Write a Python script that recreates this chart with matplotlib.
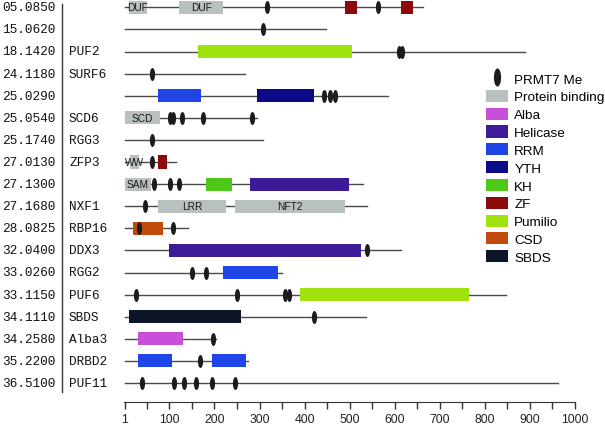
import matplotlib
matplotlib.use('Agg')
import matplotlib.pyplot as plt
from matplotlib.patches import Rectangle, Patch
from matplotlib.lines import Line2D
from matplotlib.path import Path
from matplotlib.transforms import Affine2D

# ---- data ----
ids = ['05.0850', '15.0620', '18.1420', '24.1180', '25.0290', '25.0540',
       '25.1740', '27.0130', '27.1300', '27.1680', '28.0825', '32.0400',
       '33.0260', '33.1150', '34.1110', '34.2580', '35.2200', '36.5100']
names = ['', '', 'PUF2', 'SURF6', '', 'SCD6', 'RGG3', 'ZFP3', '', 'NXF1',
         'RBP16', 'DDX3', 'RGG2', 'PUF6', 'SBDS', 'Alba3', 'DRBD2', 'PUF11']
lengths = [663, 448, 889, 268, 584, 294, 307, 115, 529, 539,
           142, 615, 349, 848, 536, 204, 274, 963]

# domains: row, start, end, type, text in box
dom_row = [0, 0, 0, 0, 2, 4, 4, 5, 7, 7, 8, 8, 8, 9, 9, 10, 11, 12, 13, 14, 15, 16, 16]
dom_start = [11, 121, 489, 615, 164, 75, 295, 1, 13, 75, 1, 181, 280, 75, 246,
             20, 100, 220, 390, 10, 30, 30, 195]
dom_end = [50, 220, 516, 640, 505, 170, 420, 80, 33, 95, 59, 240, 499, 225, 490,
           85, 525, 340, 765, 260, 130, 105, 270]
dom_type = ['Protein binding', 'Protein binding', 'ZF', 'ZF', 'Pumilio', 'RRM', 'YTH',
            'Protein binding', 'Protein binding', 'ZF', 'Protein binding', 'KH', 'Helicase',
            'Protein binding', 'Protein binding', 'CSD', 'Helicase', 'RRM', 'Pumilio',
            'SBDS', 'Alba', 'RRM', 'RRM']
dom_text = ['DUF', 'DUF', '', '', '', '', '', 'SCD', 'WW', '', 'SAM', '', '',
            'LRR', 'NFT2', '', '', '', '', '', '', '', '']

# PRMT7 methylation sites: row, position
me_row = [0, 0, 1, 2, 2, 3, 4, 4, 4, 5, 5, 5, 5, 5, 6, 7, 8, 8, 8, 9, 10, 10,
          11, 12, 12, 13, 13, 13, 13, 14, 15, 16, 17, 17, 17, 17, 17, 17]
me_pos = [317, 562, 307, 609, 616, 61, 444, 456, 468, 102, 107, 127, 174, 284, 62, 61,
          67, 101, 121, 45, 33, 109, 538, 150, 181, 26, 251, 356, 365, 421, 197, 167,
          39, 111, 132, 159, 195, 246]

legend_order = ['Protein binding', 'Alba', 'Helicase', 'RRM', 'YTH', 'KH', 'ZF',
                'Pumilio', 'CSD', 'SBDS']
colors = {'Protein binding': '#b9c0c0', 'Alba': '#c84fd8', 'Helicase': '#3c1a98',
          'RRM': '#1f45e6', 'YTH': '#0b0b88', 'KH': '#4ec816', 'ZF': '#8c0a0c',
          'Pumilio': '#9fe20e', 'CSD': '#c04b0c', 'SBDS': '#0c1628'}

# ---- figure ----
W, H = 605, 427
fig = plt.figure(figsize=(W / 100, H / 100), dpi=100)
ax = fig.add_axes([0, 0, 1, 1])
x0, sx = 124.3, 0.4507     # pixel of value 0, pixels per residue
y0, sy = 8.3, 22.1         # pixel of row 0, pixels per row
ax.set_xlim(-x0 / sx, (W - x0) / sx)
ax.set_ylim((H - y0) / sy, -y0 / sy)

mono = 'Liberation Mono'
for i in range(len(ids)):
    ax.plot([1, lengths[i]], [i, i], color='#4a4a4a', lw=1.0, zorder=1)
    ax.text(-x0 / sx + 2 / sx, i, ids[i], family=mono, fontsize=9.2,
            va='center', ha='left', color='#111111')
    ax.text(-x0 / sx + 69 / sx, i, names[i], family=mono, fontsize=9.2,
            va='center', ha='left', color='#111111')
ax.plot([(62 - x0) / sx] * 2, [-0.15, 17.4], color='#333333', lw=1.0)

bh = 0.59
for r, s, e, t, lab in zip(dom_row, dom_start, dom_end, dom_type, dom_text):
    ax.add_patch(Rectangle((s, r - bh / 2), e - s, bh, facecolor=colors[t],
                           edgecolor='none', zorder=2))
    if lab:
        ax.text((s + e) / 2, r, lab, ha='center', va='center', fontsize=7.3,
                family='Liberation Sans', color='#1a1a1a', zorder=3)

ell = Path.unit_circle().transformed(Affine2D().scale(0.4, 1.0))
ax.scatter(me_pos, me_row, marker=ell, s=88, color='#1c1c1c', linewidths=0, zorder=4)

# x axis
ax.spines[['top', 'right', 'left']].set_visible(False)
ax.spines['bottom'].set_position(('data', (403 - y0) / sy))
ax.spines['bottom'].set_bounds(0, 1000)
ax.spines['bottom'].set_color('#333333')
ax.set_yticks([])
ax.set_xticks([1] + list(range(100, 1001, 100)))
ax.set_xticklabels(['1'] + [str(v) for v in range(100, 1001, 100)])
ax.set_xticks(list(range(50, 1000, 100)), minor=True)
ax.tick_params(axis='x', which='both', direction='out', length=5, width=1,
               color='#333333', pad=3, labelsize=8.8, labelcolor='#222222')
for lbl in ax.get_xticklabels():
    lbl.set_family('Liberation Sans')

# legend
handles = [Line2D([], [], ls='none', marker=ell, markersize=13, color='#1c1c1c',
                  markeredgewidth=0, label='PRMT7 Me')]
handles += [Patch(facecolor=colors[k], edgecolor='none', label=k) for k in legend_order]
leg = ax.legend(handles=handles, loc='upper left', bbox_to_anchor=(486 / W, 1 - 73 / H),
                bbox_transform=fig.transFigure, frameon=False, borderpad=0,
                borderaxespad=0, handlelength=1.65, handleheight=1.0,
                handletextpad=0.45, labelspacing=0.31,
                prop={'family': 'Liberation Sans', 'size': 9.7})

fig.savefig('out.png', dpi=100)
